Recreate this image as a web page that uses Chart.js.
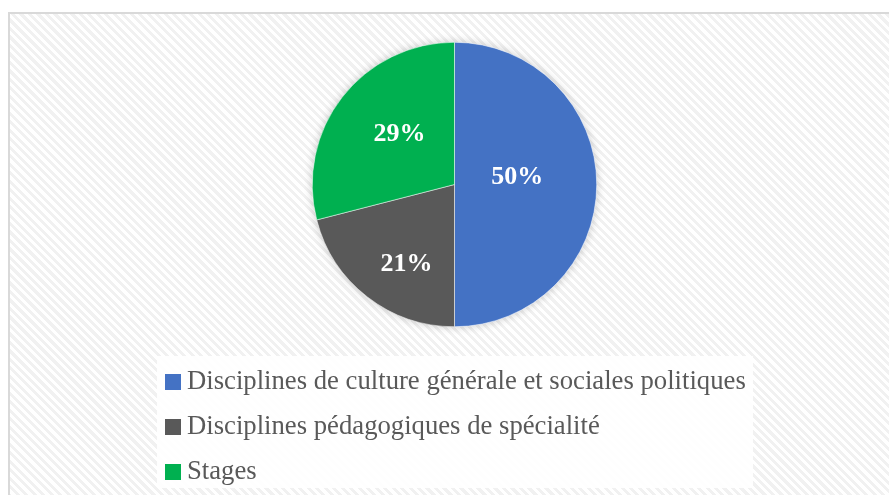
<!DOCTYPE html>
<html>
<head>
<meta charset="utf-8">
<script src="https://cdn.jsdelivr.net/npm/chart.js@4/dist/chart.umd.min.js"></script>
<style>
  html, body { margin: 0; padding: 0; background: #fff; }
  #wrap { position: relative; width: 889px; height: 495px; overflow: hidden; }
  #frame {
    position: absolute; left: 8px; top: 12px; width: 900px; height: 500px;
    border: 2px solid #d9d9d9; box-sizing: border-box;
    background: repeating-linear-gradient(45deg, #ffffff 0px, #ffffff 3px, #f1f1f1 3px, #f1f1f1 6px);
  }
  #chart-box { position: absolute; left: 0; top: 0; width: 889px; height: 495px; }
  #legend {
    position: absolute; left: 157px; top: 356px; width: 596px; height: 132px;
    background: rgba(255,255,255,0.9);
    font-family: "Liberation Serif", "Times New Roman", serif; font-size: 26.7px; color: #595959;
  }
  #legend .item { position: absolute; left: 8px; height: 30px; line-height: 30px; white-space: nowrap; }
  #legend .sw { display: inline-block; width: 16px; height: 16px; margin-right: 6px; vertical-align: -1px; }
</style>
</head>
<body>
<div id="wrap">
  <div id="frame"></div>
  <div id="chart-box"><canvas id="pieChart"></canvas></div>
  <div id="legend"></div>
</div>
<script>
  const categories = [
    'Disciplines de culture générale et sociales politiques',
    'Disciplines pédagogiques de spécialité',
    'Stages'
  ];
  const shares = [50, 21, 29];
  const sliceColors = ['#4472c4', '#595959', '#00b050'];

  // label placement: fraction of radius, and turn (degrees) from the slice middle
  const labelDepth = [0.445, 0.64, 0.535];
  const labelTurn = [-8, -6, 6];

  const pieShadow = {
    id: 'pieShadow',
    beforeDatasetsDraw(chart) {
      const arc = chart.getDatasetMeta(0).data[0];
      if (!arc) return;
      const ctx = chart.ctx;
      ctx.save();
      ctx.shadowColor = 'rgba(0,0,0,0.22)';
      ctx.shadowBlur = 9;
      ctx.fillStyle = '#ffffff';
      ctx.beginPath();
      ctx.arc(arc.x, arc.y, arc.outerRadius, 0, Math.PI * 2);
      ctx.fill();
      ctx.restore();
    }
  };

  const pctLabels = {
    id: 'pctLabels',
    afterDatasetsDraw(chart) {
      const ctx = chart.ctx;
      const total = shares.reduce((a, b) => a + b, 0);
      ctx.save();
      ctx.fillStyle = '#ffffff';
      ctx.font = 'bold 26px "Liberation Serif", "Times New Roman", serif';
      ctx.textAlign = 'center';
      ctx.textBaseline = 'middle';
      chart.getDatasetMeta(0).data.forEach((arc, i) => {
        const mid = (arc.startAngle + arc.endAngle) / 2 + labelTurn[i] * Math.PI / 180;
        const r = arc.outerRadius * labelDepth[i];
        const txt = Math.round(shares[i] / total * 100) + '%';
        ctx.fillText(txt, arc.x + Math.cos(mid) * r, arc.y + Math.sin(mid) * r + 2);
      });
      ctx.restore();
    }
  };

  new Chart(document.getElementById('pieChart'), {
    type: 'pie',
    data: {
      labels: categories,
      datasets: [{
        data: shares,
        backgroundColor: sliceColors,
        borderColor: '#ffffff',
        borderWidth: 0.5
      }]
    },
    options: {
      responsive: true,
      maintainAspectRatio: false,
      animation: false,
      layout: { padding: { left: 312, right: 292, top: 42, bottom: 168 } },
      plugins: {
        legend: { display: false },
        tooltip: { enabled: false }
      }
    },
    plugins: [pieShadow, pctLabels]
  });

  const legend = document.getElementById('legend');
  categories.forEach((name, i) => {
    const row = document.createElement('div');
    row.className = 'item';
    row.style.top = (9 + i * 45) + 'px';
    row.innerHTML = '<span class="sw" style="background:' + sliceColors[i] + '"></span>' + name;
    legend.appendChild(row);
  });
</script>
</body>
</html>
